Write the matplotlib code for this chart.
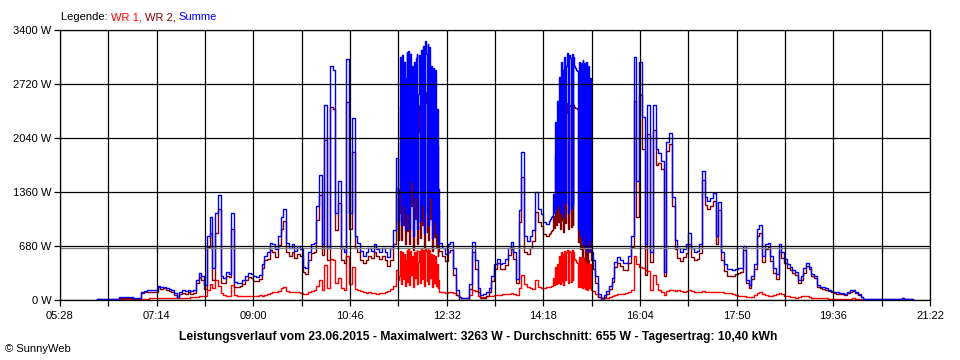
import matplotlib.pyplot as plt
import numpy as np

# Messwerte (W). Abschnitte mit eigenem Start (Minuten) und Takt (Minuten)
# A: 06:09 - 11:36, alle 3 min
START_A, TAKT_A = 369, 3
SUMME_A = [
    10, 10, 10, 10, 10, 10, 10, 10, 35, 35,
    35, 35, 35, 20, 25, 20, 105, 110, 120, 125,
    120, 126, 180, 160, 170, 150, 140, 120, 90, 40,
    100, 120, 110, 130, 110, 120, 250, 340, 300, 190,
    800, 1050, 400, 1100, 1320, 300, 280, 350, 330, 1090,
    230, 210, 220, 250, 300, 340, 330, 300, 290, 320,
    450, 560, 600, 720, 700, 640, 800, 1050, 1150, 720,
    650, 700, 620, 680, 640, 420, 400, 600, 700, 720,
    1190, 1570, 700, 2450, 650, 2950, 2900, 1100, 1500, 650,
    600, 3040, 1100, 2290, 800, 720, 620, 560, 600, 650,
    620, 700, 640, 600, 650, 600, 540, 650, 880, 1790,
]
WR1_A = [
    0, 0, 0, 0, 0, 0, 0, 0, 10, 10,
    10, 10, 10, 10, 10, 10, 15, 15, 15, 20,
    20, 20, 20, 25, 25, 25, 25, 25, 25, 20,
    25, 30, 30, 30, 35, 35, 40, 45, 45, 50,
    130, 200, 150, 250, 180, 90, 60, 50, 45, 190,
    60, 50, 45, 45, 50, 45, 50, 55, 55, 60,
    45, 60, 80, 90, 95, 100, 110, 150, 160, 110,
    100, 100, 95, 100, 90, 70, 70, 100, 110, 120,
    180, 250, 130, 440, 150, 520, 500, 220, 280, 150,
    130, 550, 200, 420, 140, 120, 110, 100, 90, 95,
    85, 90, 80, 85, 90, 95, 110, 140, 180, 380,
]

# B: 11:39 - 12:23, jede Minute
START_B, TAKT_B = 699, 1
SUMME_B = [
    1000, 1400, 3060, 950, 3080, 1200, 3000, 880, 2800, 3120,
    1100, 3140, 900, 3100, 1500, 2950, 800, 3000, 1300, 3050,
    3100, 900, 2600, 3080, 1000, 3150, 1200, 3200, 850, 3263,
    3100, 1100, 3220, 950, 3180, 1300, 2950, 780, 2920, 1000,
    2900, 850, 2400, 700, 1400,
]
WR1_B = [
    250, 300, 620, 200, 600, 260, 580, 180, 500, 630,
    230, 640, 190, 620, 320, 560, 170, 600, 280, 610,
    630, 200, 480, 620, 220, 640, 260, 630, 180, 640,
    620, 240, 640, 200, 630, 280, 580, 160, 570, 210,
    560, 180, 450, 150, 250,
]

# C: 12:24 - 14:21, alle 3 min
START_C, TAKT_C = 744, 3
SUMME_C = [
    720, 650, 580, 700, 730,
    400, 120, 40, 25, 25, 30, 200, 730, 500, 150,
    60, 70, 100, 150, 300, 450, 520, 450, 460, 520,
    650, 730, 600, 270, 1130, 1860, 800, 740, 800, 880,
    1360, 1150, 1080, 980, 960,
]
WR1_C = [
    100, 95, 90, 95, 100,
    90, 60, 40, 25, 20, 30, 60, 120, 110, 50,
    40, 40, 45, 50, 55, 60, 60, 65, 70, 75,
    80, 85, 80, 60, 150, 315, 200, 160, 150, 140,
    250, 170, 150, 150, 160,
]

# D: 14:24 - 15:11, jede Minute
START_D, TAKT_D = 864, 1
SUMME_D = [
    1000, 1020, 1040, 1050, 1060, 1340, 1100, 2240, 1150, 2500,
    1200, 2810, 1100, 3000, 1250, 2900, 1050, 3060, 1220, 2950,
    3110, 1100, 3080, 3050, 1150, 3100, 1200, 3060, 2950, 2920,
    2900, 2880, 900, 3000, 800, 2980, 700, 3020, 830, 2990,
    650, 3000, 600, 2950, 750, 2800, 620, 600,
]
WR1_D = [
    170, 170, 175, 175, 180, 280, 190, 420, 200, 450,
    220, 560, 200, 600, 240, 580, 190, 620, 250, 600,
    630, 210, 620, 610, 230, 630, 250, 600, 520, 500,
    480, 470, 170, 540, 160, 540, 150, 560, 170, 530,
    140, 520, 130, 500, 150, 450, 120, 110,
]

# E: 15:12 - 21:03, alle 3 min
START_E, TAKT_E = 912, 3
SUMME_E = [
    500, 300, 80, 25, 60, 110, 180, 280, 480,
    540, 500, 460, 470, 560, 800, 3060, 1500, 3000, 2300,
    700, 2450, 600, 2460, 1900, 1850, 1750, 356, 1990, 2100,
    1300, 750, 650, 600, 640, 700, 840, 650, 600, 620,
    700, 1620, 1300, 1250, 1280, 1350, 800, 1230, 600, 450,
    390, 390, 380, 390, 400, 400, 680, 250, 190, 300,
    450, 900, 940, 560, 700, 720, 550, 400, 330, 700,
    600, 520, 450, 420, 380, 350, 250, 300, 400, 470,
    420, 330, 300, 190, 170, 160, 150, 130, 110, 100,
    95, 90, 85, 80, 100, 120, 130, 100, 70, 40,
    15, 12, 12, 12, 12, 12, 12, 12, 12, 12,
    12, 12, 12, 12, 25, 15, 12, 10, 0,
]
WR1_E = [
    110, 80, 40, 20, 20, 30, 40, 50, 60,
    70, 75, 80, 90, 100, 130, 550, 450, 420, 400,
    380, 360, 120, 315, 200, 130, 100, 60, 110, 130,
    120, 110, 120, 110, 100, 110, 130, 110, 100, 100,
    105, 110, 100, 100, 100, 100, 100, 100, 95, 90,
    90, 85, 80, 60, 55, 50, 45, 40, 35, 40,
    60, 90, 100, 80, 60, 55, 55, 60, 70, 90,
    70, 50, 45, 40, 35, 30, 35, 50, 55, 45,
    35, 30, 28, 25, 25, 22, 20, 18, 15, 15,
    15, 12, 12, 12, 12, 15, 20, 15, 10, 5,
    0, 0, 0, 0, 0, 0, 0, 0, 0, 0,
    0, 0, 0, 0, 0, 0, 0, 0, 0,
]

MITTEL = 655
Y_TICKS = [0, 680, 1360, 2040, 2720, 3400]
X_LABELS = ['05:28', '07:14', '09:00', '10:46', '12:32',
            '14:18', '16:04', '17:50', '19:36', '21:22']
TITEL = ('Leistungsverlauf vom 23.06.2015 - Maximalwert: 3263 W - '
         'Durchschnitt: 655 W - Tagesertrag: 10,40 kWh')

abschnitte = [
    (START_A, TAKT_A, SUMME_A, WR1_A),
    (START_B, TAKT_B, SUMME_B, WR1_B),
    (START_C, TAKT_C, SUMME_C, WR1_C),
    (START_D, TAKT_D, SUMME_D, WR1_D),
    (START_E, TAKT_E, SUMME_E, WR1_E),
]
t, summe, wr1 = [], [], []
for start, takt, s, w in abschnitte:
    assert len(s) == len(w), (start, len(s), len(w))
    t.append(start + takt * np.arange(len(s)))
    summe.append(np.array(s, dtype=float))
    wr1.append(np.array(w, dtype=float))
t = np.concatenate(t)
summe = np.concatenate(summe)
wr1 = np.concatenate(wr1)
wr2 = np.clip(summe - wr1, 0, None)

plt.rcParams['font.family'] = ['Liberation Sans', 'DejaVu Sans']

fig = plt.figure(figsize=(9.6, 3.6), dpi=100)
ax = fig.add_axes([60 / 960, 60 / 360, 870 / 960, 270 / 360])

x0, x1 = 5 * 60 + 28, 21 * 60 + 22
ax.set_xlim(x0, x1)
ax.set_ylim(0, 3400)

ax.step(t, wr1, where='post', color='#ff0000', lw=1.0, zorder=2)
ax.step(t, wr2, where='post', color='#800000', lw=1.0, zorder=3)
ax.step(t, summe, where='post', color='#0000ff', lw=1.0, zorder=4)

# Gitter
for xv in np.arange(x0, x1 + 1, 53):
    ax.axvline(xv, color='black', lw=0.9, zorder=6)
for yv in Y_TICKS:
    ax.axhline(yv, color='black', lw=0.9, zorder=6)
ax.axhline(MITTEL, color='#808080', lw=0.9, zorder=5)

ax.set_xticks(np.arange(x0, x1 + 1, 53), minor=True)
ax.set_xticks(np.arange(x0, x1 + 1, 106))
ax.set_xticklabels(X_LABELS)
ax.set_yticks(Y_TICKS)
ax.set_yticklabels([f'{v} W' for v in Y_TICKS])
ax.tick_params(axis='both', which='both', length=4, width=0.9, labelsize=8, color='black')
ax.tick_params(axis='x', pad=4)
ax.tick_params(axis='y', pad=2)
for s in ax.spines.values():
    s.set_linewidth(0.9)

# Legende in Farbe
fig.canvas.draw()
r = fig.canvas.get_renderer()
xpos = 61
for txt, col in [('Legende: ', 'black'), ('WR 1, ', '#ff0000'),
                 ('WR 2, ', '#800000'), ('Summe', '#0000ff')]:
    tx = fig.text(xpos / 960, 1 - 17 / 360, txt, color=col, fontsize=8, va='center', ha='left')
    xpos += tx.get_window_extent(r).width

fig.text(478 / 960, 1 - 337 / 360, TITEL, fontsize=8.75, fontweight='bold', ha='center', va='center')
fig.text(5 / 960, 1 - 349 / 360, '© SunnyWeb', fontsize=8, ha='left', va='center')

fig.savefig('out.png', dpi=100, facecolor='white')
